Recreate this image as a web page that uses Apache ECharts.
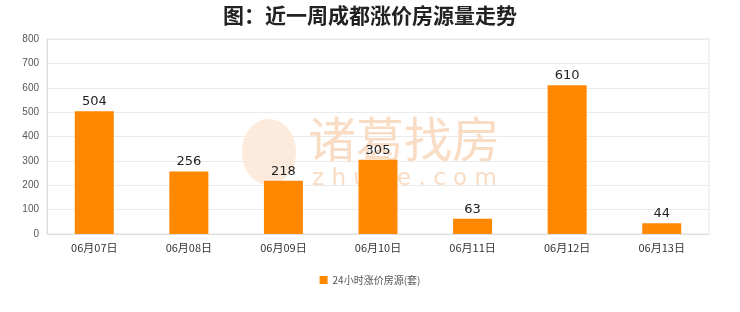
<!DOCTYPE html>
<html><head><meta charset="utf-8">
<script src="https://cdn.jsdelivr.net/npm/echarts@6/dist/echarts.min.js"></script>
<style>html,body{margin:0;padding:0;background:#fff}#c{width:740px;height:312px}</style>
</head><body><div id="c"></div>
<script>
const categories = ['06月07日','06月08日','06月09日','06月10日','06月11日','06月12日','06月13日'];
const values = [504, 256, 218, 305, 63, 610, 44];
const seriesName = '24小时涨价房源(套)';
const titleText = '图：近一周成都涨价房源量走势';

const chart = echarts.init(document.getElementById('c'));
chart.setOption({
  animation: false,
  backgroundColor: '#fff',
  title: {
    text: titleText, left: 'center', top: 0,
    textStyle: { fontSize: 21, fontWeight: 'bold', color: '#222', fontFamily: 'Noto Sans CJK SC' }
  },
  graphic: [
    { type: 'text', left: 308, top: 115, z: 1, silent: true,
      style: { text: '诸葛找房', fontSize: 48, fill: '#f9dcc4', fontFamily: 'Noto Sans CJK SC' } },
    { type: 'text', left: 312, top: 168, z: 1, silent: true,
      style: { text: 'z h u g e . c o m', fontSize: 23, fill: '#f9dcc4', fontFamily: 'DejaVu Sans' } },
    { type: 'ellipse', shape: { cx: 269, cy: 152, rx: 27, ry: 33 }, z: 1, silent: true,
      style: { fill: '#fcebdd' } }
  ],
  grid: { left: 47, right: 31, top: 39, bottom: 78, show: true, borderColor: '#e6e6e6', backgroundColor: 'transparent' },
  legend: {
    bottom: 22, left: 'center', itemWidth: 8, itemHeight: 8, icon: 'rect',
    textStyle: { fontSize: 10, color: '#555', fontFamily: 'Noto Sans CJK SC' },
    data: [seriesName]
  },
  xAxis: {
    type: 'category', data: categories,
    axisLine: { lineStyle: { color: '#dddddd' } },
    axisTick: { show: false },
    axisLabel: { color: '#333', fontSize: 11, margin: 8, fontFamily: 'Noto Sans CJK SC' }
  },
  yAxis: {
    type: 'value', min: 0, max: 800, interval: 100,
    axisLine: { show: true, lineStyle: { color: '#dddddd' } },
    axisTick: { show: false },
    splitLine: { lineStyle: { color: '#ebebeb' } },
    axisLabel: { color: '#555', fontSize: 10, margin: 8 }
  },
  series: [{
    name: seriesName, type: 'bar', data: values, barWidth: 39, z: 3,
    itemStyle: { color: '#ff8800' },
    label: { show: true, position: 'top', color: '#222', fontSize: 13, distance: 3, fontFamily: 'DejaVu Sans' }
  }]
});
</script></body></html>
